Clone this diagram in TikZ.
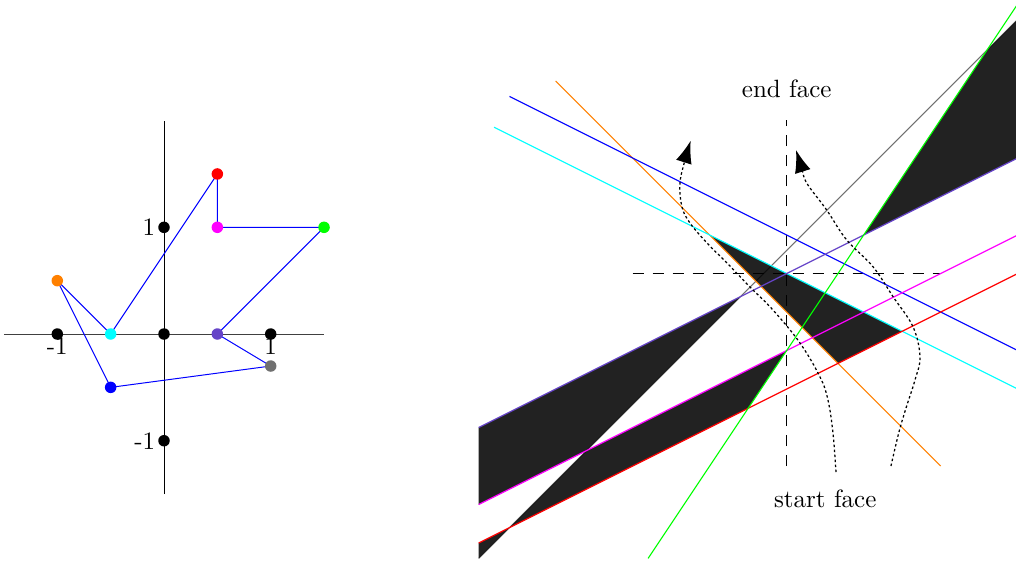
\documentclass[tikz,border=0pt]{standalone}
\usetikzlibrary{arrows.meta}
\definecolor{pviolet}{RGB}{102,68,200}
\definecolor{pgray}{RGB}{112,112,112}
\definecolor{pcyan}{RGB}{0,255,255}
\definecolor{pmagenta}{RGB}{255,0,255}
\definecolor{porange}{RGB}{255,128,0}
\definecolor{pgreen}{RGB}{0,255,0}
\definecolor{pred}{RGB}{255,0,0}
\definecolor{pblue}{RGB}{0,0,255}
\begin{document}
\begin{tikzpicture}[x=0.4pt,y=-0.4pt,
  dot/.style={circle,fill=#1,inner sep=0pt,minimum size=4.6pt},
  dual/.style={line width=0.45pt},
  region/.style={fill=black,fill opacity=0.866},
  guide/.style={black,line width=0.45pt,dash pattern=on 4.5pt off 3.5pt},
  flow/.style={black,line width=0.5pt,dash pattern=on 1pt off 1pt,-{Latex[length=9pt,width=6.5pt]}}]
\useasboundingbox (0,0) rectangle (1016,563);

% ---------------- left: the polygon ----------------
\begin{scope}[xshift=65.6pt,yshift=-133.6pt,x=1.5cm,y=1.5cm]
  \draw[black!75] (-1.5,0) -- (1.5,0);
  \draw (0,-1.5) -- (0,2);
  \node (lxm) at (-1,-0.11) {-1};
  \node (lxp) at (1,-0.11) {1};
  \node[anchor=east] (lyp) at (0,1) {1};
  \node[anchor=east] (lym) at (0,-1) {-1};
  % polygon vertices
  \coordinate (vo) at (-1,0.5);
  \coordinate (vc) at (-0.5,0);
  \coordinate (vr) at (0.5,1.5);
  \coordinate (vm) at (0.5,1);
  \coordinate (vg) at (1.5,1);
  \coordinate (vp) at (0.5,0);
  \coordinate (vy) at (1,-0.3);
  \coordinate (vb) at (-0.5,-0.5);
  \draw[pblue,line width=0.4pt] (vo) -- (vc) -- (vr) -- (vm) -- (vg) -- (vp) -- (vy) -- (vb) -- cycle;
  % axis dots
  \node[dot=black] (ko) at (0,0) {};
  \node[dot=black] (kxm) at (-1,0) {};
  \node[dot=black] (kxp) at (1,0) {};
  \node[dot=black] (kyp) at (0,1) {};
  \node[dot=black] (kym) at (0,-1) {};
  % coloured dots
  \node[dot=porange] (po) at (vo) {};
  \node[dot=pcyan] (pc) at (vc) {};
  \node[dot=pred] (pr) at (vr) {};
  \node[dot=pmagenta] (pm) at (vm) {};
  \node[dot=pgreen] (pg) at (vg) {};
  \node[dot=pviolet] (pp) at (vp) {};
  \node[dot=pgray] (py) at (vy) {};
  \node[dot=pblue] (pb) at (vb) {};
\end{scope}

% ---------------- right: the dual lines ----------------
\begin{scope}[xshift=314.68pt,yshift=-109.4pt,x=30.8pt,y=30.8pt]
  \clip (-4.05,-3.75) rectangle (2.975,3.56);
  % lines lying under the shading
  \draw[pgray,dual] (-4,-3.7) -- (3,3.3);
  \draw[guide] (-2,0) -- (2,0);
  \draw[guide] (0,-2.5) -- (0,2);
  % shaded regions
  \fill[region] (-4,-2) -- (-0.6,-0.3) -- (-2.6,-2.3) -- (-4,-3) -- cycle;
  \fill[region] (-2.6,-2.3) -- (0,-1) -- (-0.5,-1.75) -- (-3.6,-3.3) -- cycle;
  \fill[region] (-4,-3.5) -- (-3.6,-3.3) -- (-4,-3.7) -- cycle;
  \fill[region] (-1,0.5) -- (1.5,-0.75) -- (0.6667,-1.1667) -- cycle;
  \fill[region] (1,0.5) -- (2.6,2.9) -- (3,3.3) -- (3,1.5) -- cycle;
  % coloured dual lines
  \draw[porange,dual] (-3,2.5) -- (2,-2.5);
  \draw[pblue,dual] (-3.6,2.3) -- (3,-1);
  \draw[pcyan,dual] (-3.8,1.9) -- (3,-1.5);
  \draw[pviolet,dual] (-4,-2) -- (3,1.5);
  \draw[pmagenta,dual] (-4,-3) -- (3,0.5);
  \draw[pred,dual] (-4,-3.5) -- (3,0);
  \draw[pgreen,dual] (-1.8,-3.7) -- (3,3.5);
  % dotted arrows
  \draw[flow] plot[smooth,tension=0.6] coordinates {(0.640,-2.578) (0.601,-2.071) (0.536,-1.643) (0.433,-1.344) (0.173,-0.903) (-0.178,-0.474) (-0.477,-0.175) (-0.775,0.136) (-1.035,0.396) (-1.256,0.656) (-1.360,0.864) (-1.386,1.175) (-1.321,1.474) (-1.247,1.725)};
  \draw[flow] plot[smooth,tension=0.6] coordinates {(1.354,-2.500) (1.458,-2.058) (1.562,-1.708) (1.666,-1.383) (1.731,-1.081) (1.640,-0.691) (1.381,-0.301) (1.121,0.088) (0.779,0.435) (0.519,0.825) (0.260,1.175) (0.195,1.370) (0.121,1.604)};
  % labels
  \node (endf) at (0,2.4) {end face};
  \node (startf) at (0.5,-2.92) {start face};
\end{scope}
\end{tikzpicture}
\end{document}
